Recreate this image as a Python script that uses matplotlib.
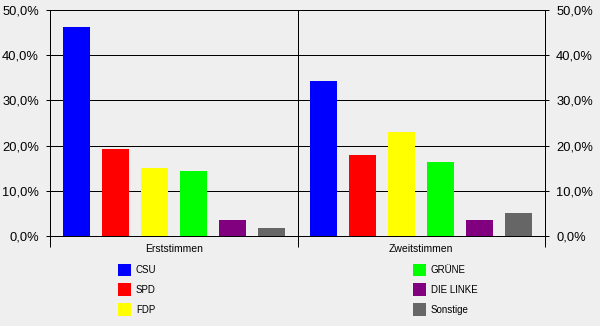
import matplotlib
matplotlib.use("Agg")
import matplotlib.pyplot as plt
from matplotlib.patches import Patch
from matplotlib.ticker import FuncFormatter
import numpy as np

# data
groups = ["Erststimmen", "Zweitstimmen"]
parties = ["CSU", "SPD", "FDP", "GRÜNE", "DIE LINKE", "Sonstige"]
erst = [46.2, 19.2, 15.0, 14.4, 3.5, 1.8]
zweit = [34.3, 17.9, 23.0, 16.4, 3.5, 5.1]
colors = ["#0000ff", "#ff0000", "#ffff00", "#00ff00", "#800080", "#666666"]
yticks = [0, 10, 20, 30, 40, 50]

BG = "#efefef"
plt.rcParams["font.family"] = ["Liberation Sans", "DejaVu Sans"]

fig = plt.figure(figsize=(6, 3.26), dpi=100, facecolor=BG)
ax = fig.add_axes([50 / 600, (326 - 236) / 326, 495 / 600, 226 / 326])
ax.set_facecolor(BG)

values = np.array([erst, zweit])
pitch = 39 / 247.5
width = 27 / 247.5
for j, party in enumerate(parties):
    x = np.arange(len(groups)) + (j - 2.5) * pitch
    ax.bar(x, values[:, j], width=width, color=colors[j], label=party, zorder=3)

ax.set_xlim(-0.5, 1.5)
ax.set_ylim(0, 50)

lw = 0.72
ax.set_yticks(yticks)
ax.yaxis.set_major_formatter(FuncFormatter(lambda v, p: f"{v:.1f}%".replace(".", ",")))
ax.grid(axis="y", color="black", linewidth=lw, zorder=1)
ax.axvline(0.5, color="black", linewidth=lw, zorder=1)
for s in ax.spines.values():
    s.set_linewidth(lw)
    s.set_color("black")

ax.tick_params(axis="y", which="major", direction="out", length=3,
               width=lw, left=True, right=True, labelleft=True, labelright=True,
               labelsize=9.3, pad=5)
ax.set_xticks([-0.5, 0.5, 1.5])
ax.set_xticklabels([])
ax.set_xticks([0, 1], minor=True)
ax.set_xticklabels(groups, minor=True)
ax.tick_params(axis="x", which="major", direction="out", length=8, width=lw)
ax.tick_params(axis="x", which="minor", length=0, labelsize=7.5, pad=6)

fs = 7
h1 = [Patch(facecolor=c, edgecolor="none") for c in colors]
leg_kw = dict(frameon=False, fontsize=fs, borderpad=0, borderaxespad=0,
              handlelength=1.34, handleheight=1.68, labelspacing=0.72,
              handletextpad=0.5, loc="upper left")
fig.legend(h1[:3], parties[:3], bbox_to_anchor=(118 / 600, (326 - 263.5) / 326), **leg_kw)
fig.legend(h1[3:], parties[3:], bbox_to_anchor=(413 / 600, (326 - 263.5) / 326), **leg_kw)

fig.savefig("out.png", dpi=100, facecolor=BG)
